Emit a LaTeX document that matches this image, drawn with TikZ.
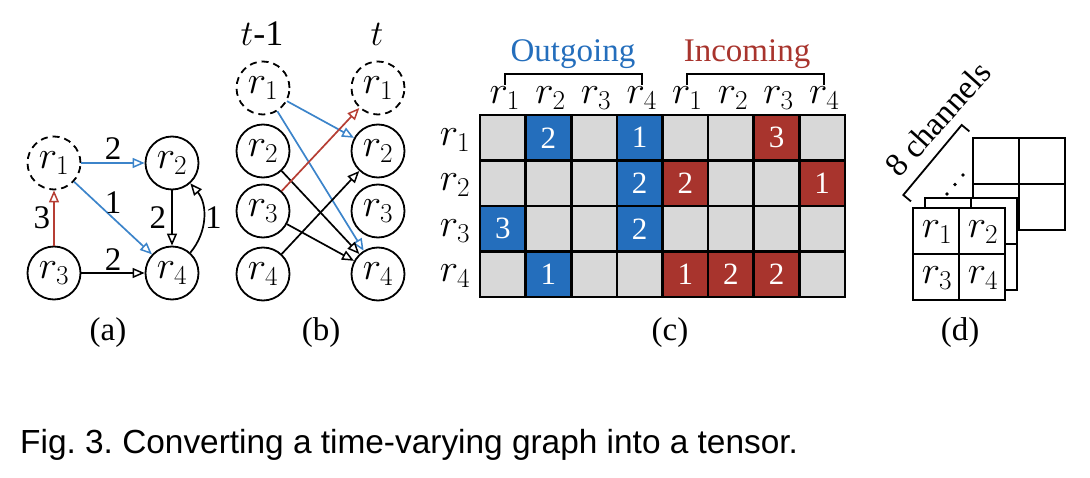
\RequirePackage{fix-cm}
\documentclass[tikz,border=0pt]{standalone}
\usepackage{fontspec}
\setmainfont{Liberation Serif}
\newfontfamily\capfont{Liberation Sans}
\usetikzlibrary{arrows.meta}

\definecolor{outblue}{RGB}{36,110,188}
\definecolor{inred}{RGB}{168,52,45}
\definecolor{lineblue}{RGB}{60,132,202}
\definecolor{linered}{RGB}{182,62,52}
\definecolor{cellgray}{RGB}{216,216,216}
\newcommand\rsize{\fontsize{39}{46}\selectfont}
\frenchspacing

\begin{document}
\begin{tikzpicture}[x=1pt, y=-1pt,
	every node/.style={font=\fontsize{33}{40}\selectfont, inner sep=2pt, text=black},
	rlbl/.style={font=\rsize},
	vtx/.style={circle, draw, line width=1.8pt, minimum size=53pt, inner sep=0pt, rlbl},
	vtxd/.style={vtx, dash pattern=on 7pt off 5pt},
	edge/.style={line width=1.7pt, -{Triangle[open, length=12pt, width=10pt, line width=1.5pt]}},
	gridline/.style={line width=2.6pt, line cap=rect},
	cellnum/.style={font=\fontsize{31}{38}\selectfont, text=white},
	sublbl/.style={anchor=base}]
	\useasboundingbox (0,0) rectangle (1090,478);
	\begin{scope}
		\node[vtxd] (a1) at (54,163) {$r_1$};
		\node[vtx] (a2) at (172,163) {$r_2$};
		\node[vtx] (a3) at (54,273) {$r_3$};
		\node[vtx] (a4) at (172,273) {$r_4$};
		\draw[edge, lineblue] (a1) -- node[above, inner sep=3pt] {2} (a2);
		\draw[edge, lineblue] (a1) -- node[above=2pt] {1} (a4);
		\draw[edge, linered] (a3) -- node[left, inner sep=3pt] {3} (a1);
		\draw[edge] (a3) -- node[above, inner sep=2pt] {2} (a4);
		\draw[edge] (a2) -- node[left, inner sep=5pt] {2} (a4);
		\draw[edge] (a4.48) to[out=50, in=-50] node[right, inner sep=1pt] {1} (a2.-48);
		\node[sublbl] (lbla) at (108,341) {(a)};
	\end{scope}
	\begin{scope}
		\node[sublbl, font=\fontsize{36}{42}\selectfont] (tprev) at (262,46) {$t$-1};
		\node[sublbl, font=\fontsize{36}{42}\selectfont] (tcur) at (377,46) {$t$};
		\node[vtxd] (bl1) at (263,88) {$r_1$};
		\node[vtxd] (br1) at (378,88) {$r_1$};
		\foreach \i/\y in {2/151,3/211,4/274} {
			\node[vtx] (bl\i) at (263,\y) {$r_\i$};
			\node[vtx] (br\i) at (378,\y) {$r_\i$};
		}
		\draw[edge, lineblue] (bl1) -- (br2);
		\draw[edge, lineblue] (bl1) -- (br4);
		\draw[edge] (bl2) -- (br4);
		\draw[edge] (bl3) -- (br4);
		\draw[edge] (bl4) -- (br2);
		\draw[edge, linered] (bl3) -- (br1);
		\node[sublbl] (lblb) at (321,341) {(b)};
	\end{scope}
	\begin{scope}
		\def\cw{45.625}
		\def\ch{45.5}
		\fill[cellgray] (480,115) rectangle (845,297);
		\foreach \i/\j/\c/\n in {1/2/outblue/2, 1/4/outblue/1, 1/7/inred/3, 2/4/outblue/2, 2/5/inred/2, 2/8/inred/1, 3/1/outblue/3, 3/4/outblue/2, 4/2/outblue/1, 4/5/inred/1, 4/6/inred/2, 4/7/inred/2} {
			\fill[\c] ({480+(\j-1)*\cw},{115+(\i-1)*\ch}) rectangle ({480+\j*\cw},{115+\i*\ch});
			\node[cellnum] (n\i\j) at ({480+(\j-0.5)*\cw},{115+(\i-0.5)*\ch}) {\n};
		}
		\foreach \j in {0,...,8} {\draw[gridline] ({480+\j*\cw},115) -- ({480+\j*\cw},297);}
		\foreach \i in {0,...,4} {\draw[gridline] (480,{115+\i*\ch}) -- (845,{115+\i*\ch});}
		\foreach \j in {1,...,4} {
			\node[rlbl] (oc\j) at ({482+(\j-0.5)*\cw},98) {$r_\j$};
			\node[rlbl] (ic\j) at ({482+(\j+3.5)*\cw},98) {$r_\j$};
			\node[rlbl] (rw\j) at (455,{117+(\j-0.5)*\ch}) {$r_\j$};
		}
		\node[sublbl, text=outblue] (outlbl) at (573,62) {Outgoing};
		\node[sublbl, text=inred] (inlbl) at (747,62) {Incoming};
		\draw[line width=1.8pt] ({482+0.5*\cw},85) |- ({482+3.5*\cw},74) -- ({482+3.5*\cw},85);
		\draw[line width=1.8pt] ({482+4.5*\cw},85) |- ({482+7.5*\cw},74) -- ({482+7.5*\cw},85);
		\node[sublbl] (lblc) at (670,341) {(c)};
	\end{scope}
	\begin{scope}
		\draw[gridline, fill=white] (973,138) rectangle (1065,230);
		\draw[gridline] (1019,138) -- (1019,230);
		\draw[gridline] (973,184) -- (1065,184);
		\draw[gridline, fill=white] (925,198) rectangle (1017,290);
		\draw[gridline] (971,198) -- (971,290);
		\draw[gridline] (925,244) -- (1017,244);
		\draw[gridline, fill=white] (913,208) rectangle (1005,300);
		\draw[gridline] (959,208) -- (959,300);
		\draw[gridline] (913,254) -- (1005,254);
		\foreach \k/\x/\y in {1/937/232, 2/983/232, 3/937/278, 4/983/278} {\node[rlbl] (f\k) at (\x,\y) {$r_\k$};}
		\foreach \k in {0,1,2} {\fill ({947+8*\k},{194-9.5*\k}) circle (1.8pt);}
		\draw[line width=1.8pt] (911,201.4) -- (903.3,195) -- (961.7,125) -- (969.4,131.4);
		\node[rotate=48] (chan) at (938,119) {8 channels};
		\node[sublbl] (lbld) at (960,341) {(d)};
	\end{scope}
	\node[anchor=base west, inner sep=0pt, font=\capfont\fontsize{33.4}{40}\selectfont] (cap) at (20,453) {Fig. 3. Converting a time-varying graph into a tensor.};
\end{tikzpicture}
\end{document}
